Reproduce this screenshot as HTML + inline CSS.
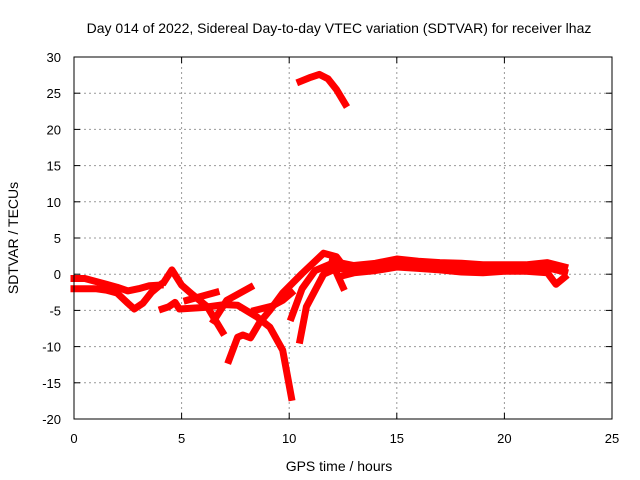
<!DOCTYPE html>
<html><head><meta charset="utf-8">
<style>
body{margin:0;background:#fff;}
svg{display:block;font-family:"Liberation Sans",sans-serif;}
</style></head>
<body>
<svg id="chart" width="640" height="480" viewBox="0 0 640 480">
<rect width="640" height="480" fill="#fff"/>
<text x="339" y="33" text-anchor="middle" font-size="14" fill="#000">Day 014 of 2022, Sidereal Day-to-day VTEC variation (SDTVAR) for receiver lhaz</text>
<g id="grid"></g>
<g id="series"></g>
<rect x="74" y="57" width="538" height="362" fill="none" stroke="#000" stroke-width="1"/>
<g id="ticks"></g>
<text x="339" y="471" text-anchor="middle" font-size="14">GPS time / hours</text>
<text transform="translate(18,238) rotate(-90)" text-anchor="middle" font-size="14">SDTVAR / TECUs</text>
</svg>
<script>
const xTicks=[0,5,10,15,20,25];
const yTicks=[-20,-15,-10,-5,0,5,10,15,20,25,30];
const s1h=[0,0.5,1,1.5,2,2.5,3,3.5,4];
const s1v=[-0.6,-0.6,-1,-1.4,-1.8,-2.3,-2,-1.6,-1.5];
const s2h=[0,1,1.5,2,2.5,2.8,3.2,3.6,4];
const s2v=[-2,-2,-2.2,-2.6,-4,-4.8,-4,-2.5,-1.5];
const s3h=[4.2,4.55,5,5.5,6.2,6.6,6.9];
const s3v=[-1,0.6,-1.5,-2.8,-4.5,-6.5,-8];
const s4h=[5.25,6,6.6];
const s4v=[-3.6,-3,-2.5];
const s5h=[4.1,4.4,4.7,4.9,6,7,7.6,8.5,9.1,9.7,10.1];
const s5v=[-4.8,-4.5,-3.9,-4.8,-4.6,-4.2,-4.3,-5.9,-7.3,-10.5,-17];
const s6h=[7.2,7.6,7.85,8.2,8.6,9.1,9.7,10.6,11.6,12.2,12.6];
const s6v=[-11.9,-8.7,-8.4,-8.8,-6.8,-5,-2.6,0.1,2.9,2.4,0.8];
const s7h=[6.5,7.1,8.2];
const s7v=[-6.4,-3.6,-1.8];
const s8h=[8.4,9.2,9.7,10.1];
const s8v=[-5,-4.4,-3.6,-2.6];
const s9h=[10.5,10.8,11.6,12.2,12.7];
const s9v=[-9.1,-4.5,0,0.8,1];
const s10h=[10.1,10.6,11.2,12,12.5];
const s10v=[-6,-2,0.5,1.5,-1.8];
const s11h=[12,13,14,15,16,17,18,19,20,21,22,22.8];
const s11v=[1.8,1.2,1.5,2.1,1.8,1.6,1.5,1.3,1.3,1.3,1.6,1];
const s12h=[12.5,13,14,15,16,17,18,19,20,21,22,22.4,22.8];
const s12v=[-0.2,0.2,0.5,1,0.8,0.6,0.3,0.2,0.4,0.4,0.2,-1.4,-0.4];
const s13h=[10.5,11,11.4,11.8,12.2,12.6];
const s13v=[26.6,27.2,27.6,27,25.5,23.5];
const s14h=[12.2,13,14,15,16,17,18,19,20,21,22,22.8];
const s14v=[0.8,0.7,1,1.5,1.3,1.1,0.9,0.8,0.9,0.9,0.9,0.3];
const allSeries=[[s1h,s1v],[s2h,s2v],[s3h,s3v],[s4h,s4v],[s5h,s5v],[s6h,s6v],[s7h,s7v],[s8h,s8v],[s9h,s9v],[s10h,s10v],[s11h,s11v],[s12h,s12v],[s13h,s13v],[s14h,s14v]];
const NS="http://www.w3.org/2000/svg";
const X0=74,X1=612,Y0=419,Y1=57;
function xs(h){return X0+(h-0)/(25-0)*(X1-X0);}
function ys(v){return Y0-(v+20)/(50)*(Y0-Y1);}
const grid=document.getElementById('grid'),ticks=document.getElementById('ticks'),ser=document.getElementById('series');
function mk(t,a,p){const e=document.createElementNS(NS,t);for(const k in a)e.setAttribute(k,a[k]);p.appendChild(e);return e;}
xTicks.forEach(t=>{const x=xs(t);
 if(t>0&&t<25){const g=mk('line',{x1:x,x2:x,y1:Y1,y2:Y0,stroke:'#999','stroke-dasharray':'2,3'},grid);
 
 }
 const l=mk('text',{x:x,y:443,'text-anchor':'middle','font-size':13},ticks);l.textContent=t;
 
 
 mk('line',{x1:x,x2:x,y1:Y0,y2:Y0-6,stroke:'#000'},ticks);
 mk('line',{x1:x,x2:x,y1:Y1,y2:Y1+6,stroke:'#000'},ticks);});
yTicks.forEach(t=>{const y=ys(t);
 if(t>-20&&t<30){const g=mk('line',{x1:X0,x2:X1,y1:y,y2:y,stroke:'#999','stroke-dasharray':'2,3'},grid);
 
 }
 const l=mk('text',{x:61,y:y+5,'text-anchor':'end','font-size':13},ticks);l.textContent=t;
 
 
 mk('line',{x1:X0,x2:X0+6,y1:y,y2:y,stroke:'#000'},ticks);
 mk('line',{x1:X1,x2:X1-6,y1:y,y2:y,stroke:'#000'},ticks);});
allSeries.forEach(([h,v])=>{
 const pts=h.map((hh,i)=>xs(hh).toFixed(1)+','+ys(v[i]).toFixed(1)).join(' ');
 const p=mk('polyline',{points:pts,fill:'none',stroke:'#f00','stroke-width':7,'stroke-linejoin':'round','stroke-linecap':'square'},ser);
 
 
});
</script>
</body></html>
